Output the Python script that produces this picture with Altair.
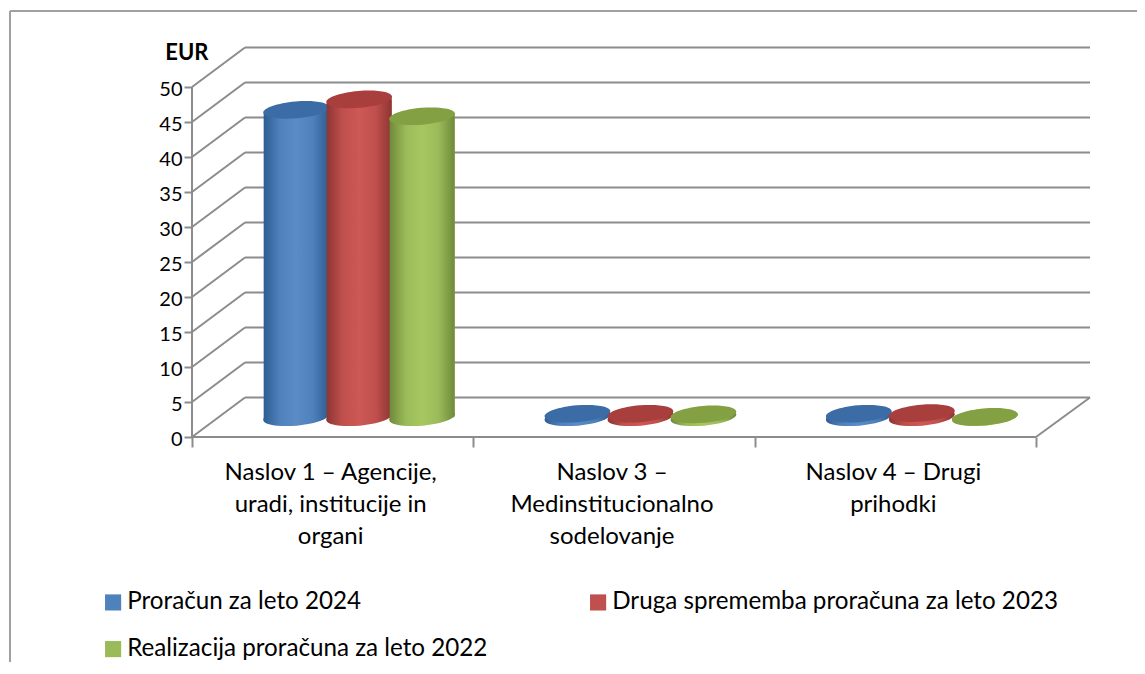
import math
import altair as alt
import pandas as pd

categories = ["Naslov 1 – Agencije,\nuradi, institucije in\norgani",
              "Naslov 3 –\nMedinstitucionalno\nsodelovanje",
              "Naslov 4 – Drugi\nprihodki"]
series = ["Proračun za leto 2024", "Druga sprememba proračuna za leto 2023",
          "Realizacija proračuna za leto 2022"]
values_2024 = [43.9, 0.5, 0.5]
values_2023 = [45.4, 0.5, 0.6]
values_2022 = [43.0, 0.4, 0.05]
y_ticks = [0, 5, 10, 15, 20, 25, 30, 35, 40, 45, 50]

BASE = ["#4F81BD", "#C0504D", "#9BBB59"]
DARK = ["#2F5D92", "#8E3533", "#6F8A3A"]
LIGHT = ["#5A8BC7", "#CD5855", "#A6C760"]
TOPC = ["#3B6CA6", "#A83F3C", "#83A043"]
FONT = "Lato"
GRID = "#8C8C8C"

PW, PH = 898, 390
PXU = 281.33
XMAX = PW / PXU
YMAX = PH / 7.0
DX = 53 / PXU
DY = 39.5 / 7.0
BAR_W = 65 / PXU
STEP = 63 / PXU
TILT = 0.4


def ellipse_path(rx=1.0, ry=0.255, deg=-5.0):
    k = 0.5523
    a = math.radians(deg)
    def p(x, y):
        return f"{x*math.cos(a)-y*math.sin(a):.4f},{x*math.sin(a)+y*math.cos(a):.4f}"
    return (f"M{p(-rx,0)} C{p(-rx,-k*ry)} {p(-k*rx,-ry)} {p(0,-ry)} "
            f"C{p(k*rx,-ry)} {p(rx,-k*ry)} {p(rx,0)} "
            f"C{p(rx,k*ry)} {p(k*rx,ry)} {p(0,ry)} "
            f"C{p(-k*rx,ry)} {p(-rx,k*ry)} {p(-rx,0)} Z")


SHAPE = ellipse_path()

rows = []
for s, vals in enumerate([values_2024, values_2023, values_2022]):
    for c, v in enumerate(vals):
        xc = c + 0.5 + DX / 2 + (s - 1) * STEP
        rows.append({"series": series[s], "s": s, "xc": xc, "x0": xc - BAR_W / 2,
                     "x1": xc + BAR_W / 2, "y0": DY / 2, "y1": v + DY / 2,
                     "lb": DY / 2 - TILT, "lt": v + DY / 2 - TILT,
                     "rb": DY / 2 + TILT, "rt": v + DY / 2 + TILT})
bars = pd.DataFrame(rows)

segs = []
def seg(i, x0, y0, x1, y1):
    segs.append({"id": i, "o": 0, "x": x0, "y": y0})
    segs.append({"id": i, "o": 1, "x": x1, "y": y1})
for t in y_ticks:
    seg(f"b{t}", DX, t + DY, XMAX, t + DY)
    seg(f"s{t}", 0, t, DX, t + DY)
seg("left", 0, 0, 0, y_ticks[-1])
seg("front", 0, 0, 3, 0)
seg("side", 3, 0, XMAX, DY)
lines = pd.DataFrame(segs)

xs = alt.Scale(domain=[0, XMAX], range=[0, PW], nice=False, zero=False)
ys = alt.Scale(domain=[0, YMAX], range=[PH, 0], nice=False, zero=False)
X = lambda f: alt.X(f, type="quantitative", scale=xs,
                    axis=alt.Axis(values=[0, 1, 2, 3], labels=False, domain=False, grid=False,
                                  ticks=True, tickSize=10, tickColor=GRID, tickWidth=2, title=None))
Y = lambda f: alt.Y(f, type="quantitative", scale=ys,
                    axis=alt.Axis(values=y_ticks, domain=False, grid=False, ticks=True, tickSize=8,
                                  tickColor=GRID, tickWidth=2, labelFont=FONT, labelFontSize=20,
                                  labelColor="#000000", labelPadding=2, labelOffset=2, title="EUR", titleAngle=0,
                                  titleFont=FONT, titleFontSize=22, titleFontWeight="bold",
                                  titleColor="#000000", titleX=16, titleY=5, titleAlign="right",
                                  titleBaseline="middle"))

grid = alt.Chart(lines).mark_line(color=GRID, strokeWidth=2).encode(X("x"), Y("y"), detail="id:N", order="o:Q")

# vega fills legend columns first, so the 2022 entry comes second to sit under 2024
legend_order = [series[0], series[2], series[1]]
legend_colors = [BASE[0], BASE[2], BASE[1]]
legend_bars = alt.Chart(bars[bars.y1 > 10]).mark_bar().encode(
    X("xc"), Y("y0"), x2=alt.X2("x1"), y2=alt.Y2("y1"),
    color=alt.Color("series:N", scale=alt.Scale(domain=legend_order, range=legend_colors),
                    legend=alt.Legend(orient="none", legendX=-91, legendY=543, columns=2, title=None,
                                      symbolType="square", symbolSize=260, symbolStrokeWidth=0,
                                      labelFont=FONT, labelFontSize=24.2, labelOffset=2, labelColor="#000000",
                                      labelLimit=600, columnPadding=98, rowPadding=22, symbolOpacity=1)),
)


def grad(stops):
    return alt.Gradient(gradient="linear", x1=0, x2=1, y1=0, y2=0,
                        stops=[alt.GradientStop(offset=o, color=c) for o, c in stops])


layers = [grid, legend_bars]
for s in range(3):
    d = bars[bars.s == s]
    g = grad([(0, DARK[s]), (0.25, BASE[s]), (0.5, LIGHT[s]), (0.75, BASE[s]), (1, DARK[s])])
    gl = grad([(0, DARK[s]), (0.5, BASE[s]), (1, LIGHT[s])])
    gr = grad([(0, LIGHT[s]), (0.5, BASE[s]), (1, DARK[s])])
    base = alt.Chart(d)
    layers.append(base.mark_point(shape=SHAPE, filled=True, size=66 * 66, opacity=1, fill=g, strokeWidth=0)
                  .encode(X("xc"), Y("y0")))
    layers.append(base.mark_bar(fill=gl, strokeWidth=0).encode(X("x0"), Y("lb"), x2=alt.X2("xc"), y2=alt.Y2("lt")))
    layers.append(base.mark_bar(fill=gr, strokeWidth=0).encode(X("xc"), Y("rb"), x2=alt.X2("x1"), y2=alt.Y2("rt")))
    layers.append(base.mark_point(shape=SHAPE, filled=True, size=66 * 66, opacity=1, fill=TOPC[s], strokeWidth=0)
                  .encode(X("xc"), Y("y1")))

labels = alt.Chart(pd.DataFrame({"c": [i + 0.5 for i in range(3)], "y": [0, 0, 0], "t": categories})).mark_text(
    font=FONT, fontSize=24, color="#000000", align="center", baseline="top", lineBreak="\n",
    lineHeight=32, dy=24, dx=-2).encode(X("c"), Y("y"), text="t:N")
layers.append(labels)

frame = pd.DataFrame({"a": [0]})
layers.append(alt.Chart(frame).mark_rule(color="#A0A0A0", strokeWidth=2).encode(
    x=alt.value(-182), x2=alt.value(945), y=alt.value(-36)))
layers.append(alt.Chart(frame).mark_rule(color="#A0A0A0", strokeWidth=2).encode(
    x=alt.value(-182), y=alt.value(-36), y2=alt.value(615)))

chart = alt.layer(*layers).properties(
    width=PW, height=PH, background="#FFFFFF",
    padding={"left": 184, "top": 39, "right": 47, "bottom": 225},
    autosize=alt.AutoSizeParams(type="none"),
).configure_view(stroke=None)

chart.save("out.html", embed_options={"renderer": "svg", "actions": False})
